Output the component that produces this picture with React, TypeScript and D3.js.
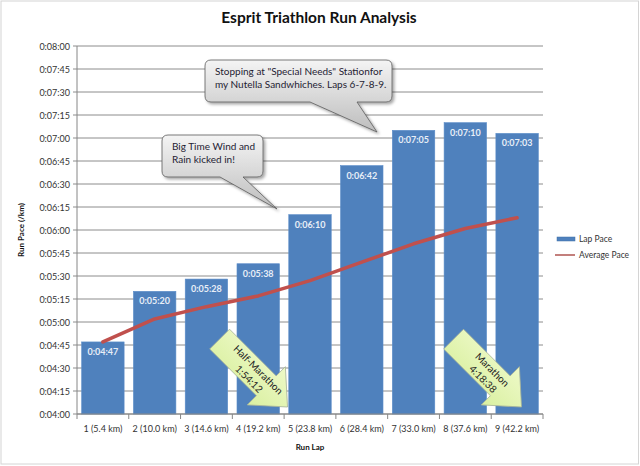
import React from "react";
import * as d3 from "d3";

// Run laps (category labels)
const laps = [
  "1 (5.4 km)",
  "2 (10.0 km)",
  "3 (14.6 km)",
  "4 (19.2 km)",
  "5 (23.8 km)",
  "6 (28.4 km)",
  "7 (33.0 km)",
  "8 (37.6 km)",
  "9 (42.2 km)",
];

// Lap pace, seconds per km
const lapPace = [287, 320, 328, 338, 370, 402, 425, 430, 423];

// Running average pace, seconds per km
const averagePace = [287, 302, 310, 317, 327, 339, 351, 361, 368];

const seriesNames = ["Lap Pace", "Average Pace"];

const calloutTexts = [
  ["Big Time Wind and", "Rain kicked in!"],
  ['Stopping at "Special Needs" Stationfor', "my Nutella Sandwhiches. Laps 6-7-8-9."],
];

const arrowTexts = [
  ["Half-Marathon", "1:54:12"],
  ["Marathon", "4:18:38"],
];

const width = 640;
const height = 466;
const margin = { top: 46, right: 97, bottom: 52, left: 77 };
const font = "Lato, 'Open Sans', sans-serif";

const pad = (n: number) => String(n).padStart(2, "0");
const fmt = (s: number) => `0:${pad(Math.floor(s / 60))}:${pad(s % 60)}`;

// callout box + pointer path
const calloutPath = (
  x0: number,
  y0: number,
  x1: number,
  y1: number,
  b0: number,
  b1: number,
  tx: number,
  ty: number,
  r = 6
) =>
  `M${x0 + r},${y0} H${x1 - r} Q${x1},${y0} ${x1},${y0 + r} V${y1 - r} Q${x1},${y1} ${x1 - r},${y1} ` +
  `H${b1} L${tx},${ty} L${b0},${y1} H${x0 + r} Q${x0},${y1} ${x0},${y1 - r} V${y0 + r} Q${x0},${y0} ${x0 + r},${y0} Z`;

const Callout: React.FC<{
  box: [number, number, number, number];
  base: [number, number];
  tip: [number, number];
  lines: string[];
  lineGap: number;
}> = ({ box, base, tip, lines, lineGap }) => {
  const [x0, y0, x1, y1] = box;
  return (
    <g>
      <path
        d={calloutPath(x0, y0, x1, y1, base[0], base[1], tip[0], tip[1])}
        fill="url(#calloutFill)"
        stroke="#5a5a5a"
        strokeWidth={0.8}
        filter="url(#shadow)"
      />
      {lines.map((t, i) => (
        <text
          key={i}
          x={x0 + 10}
          y={y0 + 15 + i * lineGap}
          fontSize={10}
          fill="#1f2233"
          fontFamily={font}
        >
          {t}
        </text>
      ))}
    </g>
  );
};

const Arrow: React.FC<{ tip: [number, number]; lines: string[] }> = ({ tip, lines }) => (
  <g transform={`translate(${tip[0]},${tip[1]}) rotate(45)`}>
    <path
      d="M0,0 L-30,-27 L-30,-14 L-96,-14 L-96,14 L-30,14 L-30,27 Z"
      fill="url(#arrowFill)"
      stroke="#a8b49a"
      strokeWidth={0.8}
    />
    {lines.map((t, i) => (
      <text
        key={i}
        x={-47}
        y={-6 + i * 13}
        textAnchor="middle"
        dominantBaseline="central"
        fontSize={10}
        fill="#222"
        fontFamily={font}
      >
        {t}
      </text>
    ))}
  </g>
);

const App: React.FC = () => {
  const x = d3
    .scaleBand<string>()
    .domain(laps)
    .range([margin.left, width - margin.right])
    .paddingInner(0.18)
    .paddingOuter(0.09);

  const y = d3
    .scaleLinear()
    .domain([240, 480])
    .range([height - margin.bottom, margin.top]);

  const yTicks = d3.range(240, 481, 15);
  const bw = x.bandwidth();
  const x0 = margin.left;
  const x1 = width - margin.right;
  const yBase = y(240);

  const line = d3
    .line<number>()
    .x((_, i) => (x(laps[i]) as number) + bw / 2)
    .y((d) => y(d));

  // category boundaries for x ticks
  const xTicks = d3.range(laps.length + 1).map((i) => x0 + i * ((x1 - x0) / laps.length));

  return (
    <svg
      width={width}
      height={height}
      style={{ position: "absolute", left: 0, top: 0, background: "#fff" }}
    >
      <defs>
        <linearGradient id="calloutFill" x1="0" y1="0" x2="0" y2="1">
          <stop offset="0" stopColor="#f4f4f4" />
          <stop offset="1" stopColor="#bdbdbd" />
        </linearGradient>
        <linearGradient id="arrowFill" x1="0" y1="0" x2="0" y2="1">
          <stop offset="0" stopColor="#eef9c8" />
          <stop offset="1" stopColor="#d9f0a0" />
        </linearGradient>
        <filter id="shadow" x="-10%" y="-10%" width="130%" height="140%">
          <feDropShadow dx={2} dy={2} stdDeviation={1.5} floodColor="#000" floodOpacity={0.35} />
        </filter>
      </defs>

      <rect x={1} y={1} width={width - 2.5} height={height - 3} fill="#fff" stroke="#d4d4d4" />

      <text
        x={319}
        y={23}
        textAnchor="middle"
        fontSize={15.5}
        fontWeight="bold"
        fontFamily={font}
        fill="#111"
      >
        Esprit Triathlon Run Analysis
      </text>

      {/* gridlines + y ticks */}
      {yTicks.map((t) => (
        <g key={t}>
          <line x1={x0} x2={x1} y1={y(t)} y2={y(t)} stroke="#8c8c8c" strokeWidth={1} />
          <line x1={x0 - 4} x2={x0} y1={y(t)} y2={y(t)} stroke="#8c8c8c" />
          <text
            x={x0 - 7}
            y={y(t)}
            textAnchor="end"
            dominantBaseline="central"
            fontSize={9}
            fill="#333"
            fontFamily={font}
          >
            {fmt(t)}
          </text>
        </g>
      ))}

      {/* bars */}
      {lapPace.map((v, i) => (
        <g key={laps[i]}>
          <rect
            x={x(laps[i])}
            y={y(v)}
            width={bw}
            height={yBase - y(v)}
            fill="#4f81bd"
            stroke="#5b8dc9"
            strokeWidth={0.6}
          />
          <text
            x={(x(laps[i]) as number) + bw / 2}
            y={y(v) + 13}
            textAnchor="middle"
            fontSize={9}
            fontWeight="bold"
            fill="#e8eef7"
            fontFamily={font}
          >
            {fmt(v)}
          </text>
        </g>
      ))}

      {/* axes */}
      <line x1={x0} x2={x0} y1={margin.top} y2={yBase} stroke="#868686" />
      <line x1={x0} x2={x1} y1={yBase} y2={yBase} stroke="#868686" />
      {xTicks.map((t, i) => (
        <line key={i} x1={t} x2={t} y1={yBase} y2={yBase + 5} stroke="#868686" />
      ))}
      {laps.map((l) => (
        <text
          key={l}
          x={(x(l) as number) + bw / 2}
          y={432}
          textAnchor="middle"
          fontSize={9}
          fill="#333"
          fontFamily={font}
        >
          {l}
        </text>
      ))}

      <path
        d={line(averagePace) as string}
        fill="none"
        stroke="#c0504d"
        strokeWidth={3.5}
        strokeLinejoin="round"
        strokeLinecap="round"
      />

      {/* axis titles */}
      <text
        transform={`translate(24,${(margin.top + yBase) / 2}) rotate(-90)`}
        textAnchor="middle"
        fontSize={8}
        fontWeight="bold"
        fill="#111"
        fontFamily={font}
      >
        Run Pace (/km)
      </text>
      <text
        x={310}
        y={450}
        textAnchor="middle"
        fontSize={8}
        fontWeight="bold"
        fill="#111"
        fontFamily={font}
      >
        Run Lap
      </text>

      {/* legend */}
      <rect x={557} y={237} width={18} height={4} fill="#4f81bd" stroke="#3f6fa8" strokeWidth={0.5} />
      <text x={579} y={239} dominantBaseline="central" fontSize={8.5} fill="#333" fontFamily={font}>
        {seriesNames[0]}
      </text>
      <line x1={555} x2={575} y1={255} y2={255} stroke="#9b2a26" strokeWidth={1.2} />
      <text x={579} y={255} dominantBaseline="central" fontSize={8.5} fill="#333" fontFamily={font}>
        {seriesNames[1]}
      </text>

      {/* annotations */}
      <Callout
        box={[162, 135, 263, 177]}
        base={[220, 243]}
        tip={[277, 209]}
        lines={calloutTexts[0]}
        lineGap={12.5}
      />
      <Callout
        box={[205, 60, 392, 102]}
        base={[310, 357]}
        tip={[377, 132]}
        lines={calloutTexts[1]}
        lineGap={13}
      />
      <Arrow tip={[287.5, 407]} lines={arrowTexts[0]} />
      <Arrow tip={[521.5, 407]} lines={arrowTexts[1]} />
    </svg>
  );
};

export default App;
